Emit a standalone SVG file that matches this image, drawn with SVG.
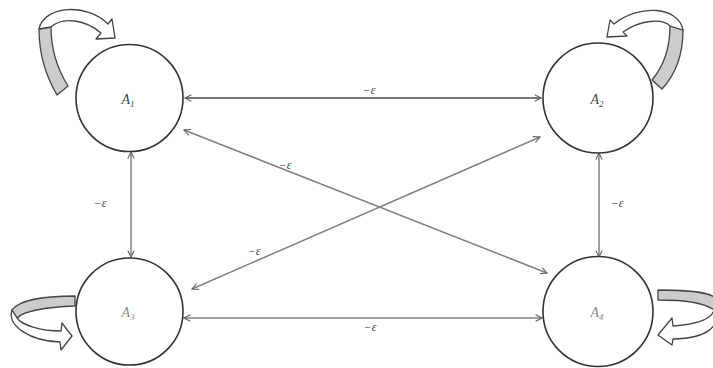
<svg xmlns="http://www.w3.org/2000/svg" width="713" height="368" viewBox="0 0 713 368">
<style>
.node circle{fill:#fff;stroke:#333;stroke-width:1.6}
.lbl{font-family:"Liberation Serif",serif;font-style:italic;font-size:14px;fill:#444;text-anchor:middle}
.sub{font-size:9px}
.edge{stroke:#808080;stroke-width:1.5;fill:none;marker-start:url(#ah);marker-end:url(#ah)}
.el{font-family:"Liberation Serif",serif;font-style:italic;font-size:12px;fill:#444;text-anchor:middle}
.shade{fill:#cccccc;stroke:#444;stroke-width:1.3;stroke-linejoin:round}
.wht{fill:#fff;stroke:#444;stroke-width:1.3;stroke-linejoin:round}
</style>
<defs>
<marker id="ah" viewBox="0 0 10 10" refX="9" refY="5" markerWidth="8" markerHeight="8" markerUnits="userSpaceOnUse" orient="auto-start-reverse">
<path d="M1,1 L9,5 L1,9" fill="none" stroke="#666" stroke-width="1.4"/>
</marker>
</defs>
<rect width="713" height="368" fill="#fff"/>
<g id="connectors">
<line class="edge" x1="185" y1="98" x2="541" y2="98" style="stroke:#777;stroke-width:1.8"/>
<line class="edge" x1="131" y1="152" x2="131" y2="257"/>
<line class="edge" x1="599" y1="153" x2="599" y2="257"/>
<line class="edge" x1="184" y1="318" x2="542" y2="318"/>
<line class="edge" x1="184" y1="130" x2="547" y2="273"/>
<line class="edge" x1="192" y1="289" x2="540" y2="137"/>
<text class="el" x="369" y="94">−ε</text>
<text class="el" x="370" y="331">−ε</text>
<text class="el" x="100" y="207">−ε</text>
<text class="el" x="617" y="207">−ε</text>
<text class="el" x="285" y="169">−ε</text>
<text class="el" x="254" y="255">−ε</text>
</g>
<g id="A1" class="node">
<path class="shade" d="M39,29 C39,55 47,78 57,95 L68,86 C58,70 51,50 51,27 Z"/>
<path class="wht" d="M39,29 C44,5 88,3 108,24 L112,19 L115,38 L96,39 L101,33 C86,20 63,16 51,27 Z"/>
<circle cx="129.5" cy="98" r="53.5"/>
<text class="lbl" x="128" y="104">A<tspan class="sub" dy="3">1</tspan></text>
</g>
<g id="A2" class="node">
<path class="shade" d="M683,30 C683,55 675,75 662,89 L652,80 C662,68 670,50 670,26 Z"/>
<path class="wht" d="M683,30 C679,7 640,3 614,24 L610,20 L607,37 L627,36 L623,32 C640,20 662,18 670,26 Z"/>
<circle cx="598" cy="98" r="55"/>
<text class="lbl" x="597" y="104">A<tspan class="sub" dy="3">2</tspan></text>
</g>
<g id="A3" class="node">
<path class="shade" d="M75,296 C50,296 20,299 12,310 L17,318 C25,310 50,307 75,306 Z"/>
<path class="wht" d="M12,310 C7,326 30,341 60,342 L61,350 L72,336 L62,323 L61,331 C40,331 22,325 17,318 Z"/>
<circle cx="129.5" cy="311.5" r="53.5"/>
<text class="lbl" x="128" y="317" style="fill:#888">A<tspan class="sub" dy="3">3</tspan></text>
</g>
<g id="A4" class="node">
<path class="shade" d="M658,290 C690,290 712,292 718,300 L714,310 C705,303 685,300 658,300 Z"/>
<path class="wht" d="M714,310 C712,318 700,324 673,326 L672,318 L658,335 L672,345 L673,339 C705,338 722,330 718,300 Z"/>
<circle cx="598" cy="311.5" r="55"/>
<text class="lbl" x="597" y="317" style="fill:#888">A<tspan class="sub" dy="3">4</tspan></text>
</g>
</svg>
